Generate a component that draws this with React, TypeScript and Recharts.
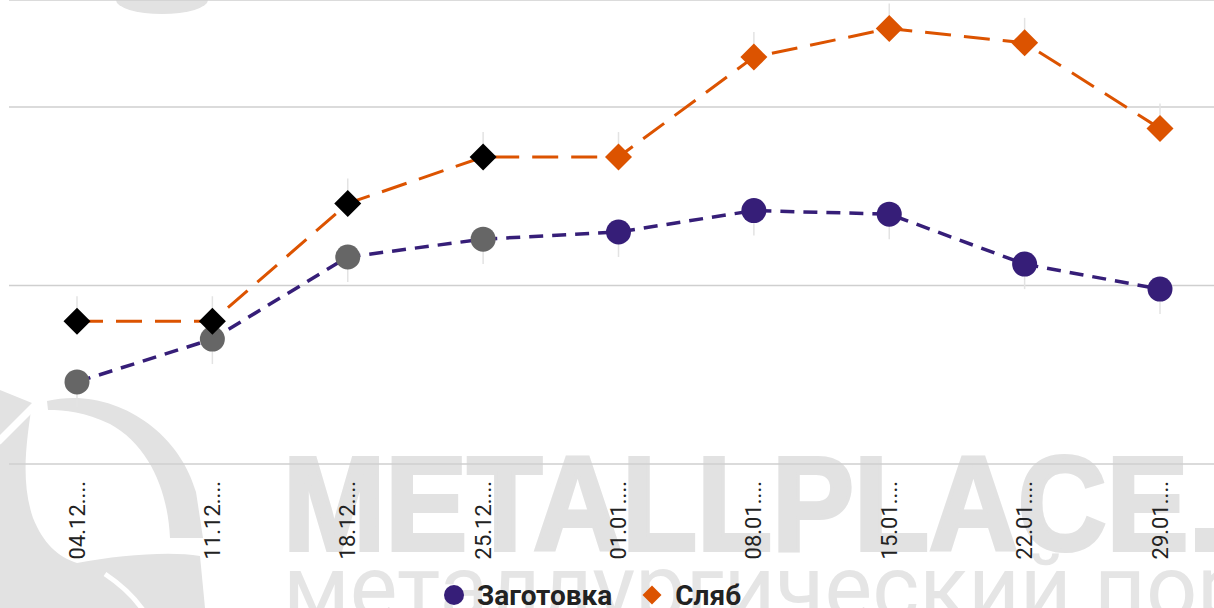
import React from "react";
import {
  CartesianGrid,
  ErrorBar,
  Legend,
  Line,
  LineChart,
  XAxis,
  YAxis,
} from "recharts";

const categories = [
  "04.12....",
  "11.12....",
  "18.12....",
  "25.12....",
  "01.01....",
  "08.01....",
  "15.01....",
  "22.01....",
  "29.01....",
];
const billet = [423, 435, 458, 463, 465, 471, 470, 456, 449];
const slab = [440, 440, 473, 486, 486, 514, 522, 518, 494];
// whiskers: billet hangs down, slab sticks up
const billetErr = [
  [7, 0], [7, 0], [7, 0], [7, 0], [7, 0], [7, 0], [7, 0], [7, 0], [7, 0],
];
const slabErr = [
  [0, 7], [0, 7], [0, 7], [0, 7], [0, 7], [0, 7], [0, 7], [0, 7], [0, 7],
];
const yTicks = [400, 450, 500];
const greyCount = 4;

const PURPLE = "#361e78";
const ORANGE = "#dc5300";
const WM = "#e2e2e2";

const data = categories.map((name, i) => ({
  name,
  billet: billet[i],
  slab: slab[i],
  billetErr: billetErr[i],
  slabErr: slabErr[i],
}));

function CircleDot(props: any) {
  const { cx, cy, index } = props;
  const fill = index < greyCount ? "#666666" : PURPLE;
  return <circle key={`c${index}`} cx={cx} cy={cy} r={12.5} fill={fill} />;
}

function DiamondDot(props: any) {
  const { cx, cy, index } = props;
  const fill = index < greyCount ? "#000000" : ORANGE;
  const s = 13.5;
  return (
    <path
      key={`d${index}`}
      d={`M${cx},${cy - s}L${cx + s},${cy}L${cx},${cy + s}L${cx - s},${cy}Z`}
      fill={fill}
    />
  );
}

function RotatedTick(props: any) {
  const { x, y, payload } = props;
  return (
    <text
      x={x}
      y={y}
      transform={`rotate(-90 ${x} ${y})`}
      textAnchor="end"
      dominantBaseline="central"
      fontFamily="Roboto, sans-serif"
      fontSize={22}
      fill="#222"
    >
      {payload.value}
    </text>
  );
}

function LegendBox() {
  return (
    <div
      style={{
        height: 30,
        display: "flex",
        justifyContent: "center",
        alignItems: "center",
        paddingRight: 52,
        fontFamily: "Roboto, sans-serif",
        fontWeight: 700,
        fontSize: 28,
        color: "#222",
      }}
    >
      <svg width={20} height={20} style={{ marginRight: 13 }}>
        <circle cx={10} cy={10} r={10} fill={PURPLE} />
      </svg>
      <span>Заготовка</span>
      <svg width={20} height={20} style={{ marginLeft: 30, marginRight: 13 }}>
        <path d="M10,0.5L19.5,10L10,19.5L0.5,10Z" fill={ORANGE} />
      </svg>
      <span>Сляб</span>
    </div>
  );
}

function Watermark() {
  return (
    <svg
      width={1214}
      height={608}
      style={{ position: "absolute", left: 0, top: 0 }}
    >
      <ellipse cx={162} cy={0} rx={46} ry={14} fill={WM} />
      {/* logo: left crescent and leaf */}
      <path
        d="M0,390 L32,403 C27,440 20,480 33,518 C43,543 58,557 77,563 C120,555 170,551 200,556 L205,608 L0,608 Z"
        fill={WM}
      />
      <path d="M-2,442 L40,400" stroke="#fff" strokeWidth={7} />
      <path d="M105,574 C120,584 134,597 143,610" stroke="#fff" strokeWidth={5} fill="none" />
      {/* logo: arc band */}
      <path
        d="M47,401 C110,386 178,428 196,492 L203,538 L170,538 C168,492 150,446 110,424 C85,412 65,410 48,410 Z"
        fill={WM}
      />
      <text
        x={283}
        y={550}
        fontFamily="'Liberation Sans', Arial, sans-serif"
        fontWeight={700}
        fontSize={134}
        textLength={1117}
        lengthAdjust="spacingAndGlyphs"
        stroke={WM}
        strokeWidth={4}
        fill={WM}
      >
        METALLPLACE.RU
      </text>
      <text
        x={283}
        y={619}
        fontFamily="Roboto, sans-serif"
        fontWeight={400}
        fontSize={90}
        fill="#e5e5e5"
      >
        металлургический портал
      </text>
    </svg>
  );
}

export default function App() {
  return (
    <div
      style={{
        position: "fixed",
        left: 0,
        top: 0,
        width: 1214,
        height: 608,
        overflow: "hidden",
        background: "#fff",
      }}
    >
      <Watermark />
      <div style={{ position: "absolute", left: 0, top: 0 }}>
        <LineChart
          width={1228}
          height={610}
          data={data}
          margin={{ top: 0, right: 0, bottom: 0, left: 9 }}
        >
          <CartesianGrid vertical={false} stroke="#cfcfcf" strokeWidth={1.5} />
          <XAxis
            dataKey="name"
            axisLine={false}
            tickLine={false}
            interval={0}
            height={116}
            padding={{ left: 68, right: 68 }}
            tick={<RotatedTick />}
            tickMargin={11}
          />
          <YAxis hide domain={[400, 530]} ticks={yTicks} />
          <Legend verticalAlign="bottom" content={<LegendBox />} />
          <Line
            dataKey="billet"
            name="Заготовка"
            type="linear"
            stroke={PURPLE}
            strokeWidth={3.5}
            strokeDasharray="14 9"
            dot={<CircleDot />}
            activeDot={false}
            isAnimationActive={false}
          >
            <ErrorBar
              dataKey="billetErr"
              direction="y"
              stroke="#e3e3e3"
              strokeWidth={1.5}
              width={0}
              isAnimationActive={false}
            />
          </Line>
          <Line
            dataKey="slab"
            name="Сляб"
            type="linear"
            stroke={ORANGE}
            strokeWidth={3}
            strokeDasharray="26 13"
            dot={<DiamondDot />}
            activeDot={false}
            isAnimationActive={false}
          >
            <ErrorBar
              dataKey="slabErr"
              direction="y"
              stroke="#e3e3e3"
              strokeWidth={1.5}
              width={0}
              isAnimationActive={false}
            />
          </Line>
        </LineChart>
      </div>
    </div>
  );
}
